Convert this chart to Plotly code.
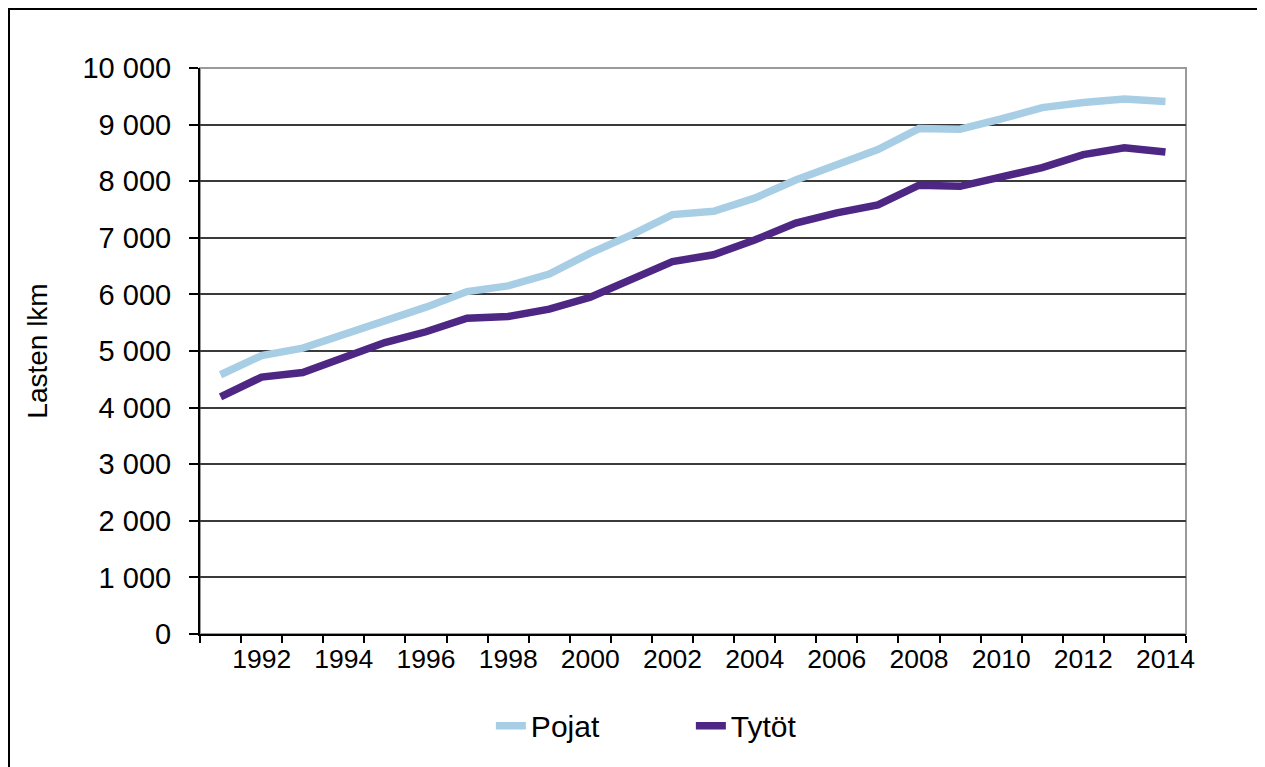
import plotly.graph_objects as go

years = list(range(1991, 2015))
pojat = [4580, 4920, 5050, 5285, 5550, 5775, 6050, 6150, 6360, 6730, 7050, 7410,
         7470, 7700, 8020, 8290, 8560, 8930, 8920, 9100, 9300, 9390, 9450, 9410]
tytot = [4190, 4540, 4620, 4890, 5150, 5340, 5580, 5610, 5740, 5950, 6280, 6580,
         6700, 6960, 7260, 7440, 7580, 7930, 7910, 8080, 8240, 8470, 8590, 8515]
label_years = list(range(1992, 2015, 2))
y_ticks = list(range(0, 10001, 1000))

FONT = "Liberation Sans, Arial, sans-serif"
C_POJAT = "#A8CEE5"
C_TYTOT = "#4E2683"

fig = go.Figure()
fig.add_trace(go.Scatter(x=years, y=pojat, name="Pojat", mode="lines",
                         line=dict(color=C_POJAT, width=7.5)))
fig.add_trace(go.Scatter(x=years, y=tytot, name="Tytöt", mode="lines",
                         line=dict(color=C_TYTOT, width=7.5)))

boundaries = [y - 0.5 for y in years] + [years[-1] + 0.5]

L, T, PW, PH = 192, 60, 986, 566
W, H = 1257, 759

fig.update_layout(
    width=W, height=H,
    margin=dict(l=L, r=W - L - PW, t=T, b=H - T - PH),
    paper_bgcolor="white", plot_bgcolor="white",
    font=dict(family=FONT, color="black"),
    separators=", ",
    showlegend=True,
    legend=dict(orientation="h", x=0.295, xanchor="left", y=-0.162, yanchor="middle",
                font=dict(size=30, family=FONT), entrywidth=155, entrywidthmode="pixels",
                bgcolor="rgba(0,0,0,0)"),
    xaxis=dict(
        range=[boundaries[0], boundaries[-1]],
        tickmode="array", tickvals=label_years, ticktext=[str(v) for v in label_years],
        ticks="", showgrid=False, zeroline=False,
        showline=True, linecolor="black", linewidth=2,
        tickfont=dict(size=26.5, family=FONT),
        minor=dict(tickmode="array", tickvals=boundaries, ticks="outside", ticklen=7,
                   tickwidth=1.5, tickcolor="black", showgrid=False),
    ),
    yaxis=dict(
        range=[0, 10000],
        tickmode="array", tickvals=y_ticks,
        tickformat=",d",
        ticks="outside", ticklen=9, tickwidth=1.5, tickcolor="black",
        showgrid=True, gridcolor="#3a3a3a", gridwidth=1.5,
        zeroline=False,
        showline=True, linecolor="black", linewidth=2,
        tickfont=dict(size=29, family=FONT),
        ticklabelstandoff=12,
        title=dict(text="Lasten lkm", font=dict(size=28, family=FONT), standoff=27),
    ),
    shapes=[
        dict(type="rect", xref="paper", yref="paper", x0=0, x1=1, y0=0, y1=1,
             line=dict(color="#9a9a9a", width=2), layer="below"),
        dict(type="rect", xref="paper", yref="paper",
             x0=(1 - L) / PW, x1=(1254 - L) / PW,
             y0=(T + PH - 790) / PH, y1=(T + PH - 1) / PH,
             line=dict(color="black", width=2), layer="above"),
    ],
)

fig.write_html("out.html")
